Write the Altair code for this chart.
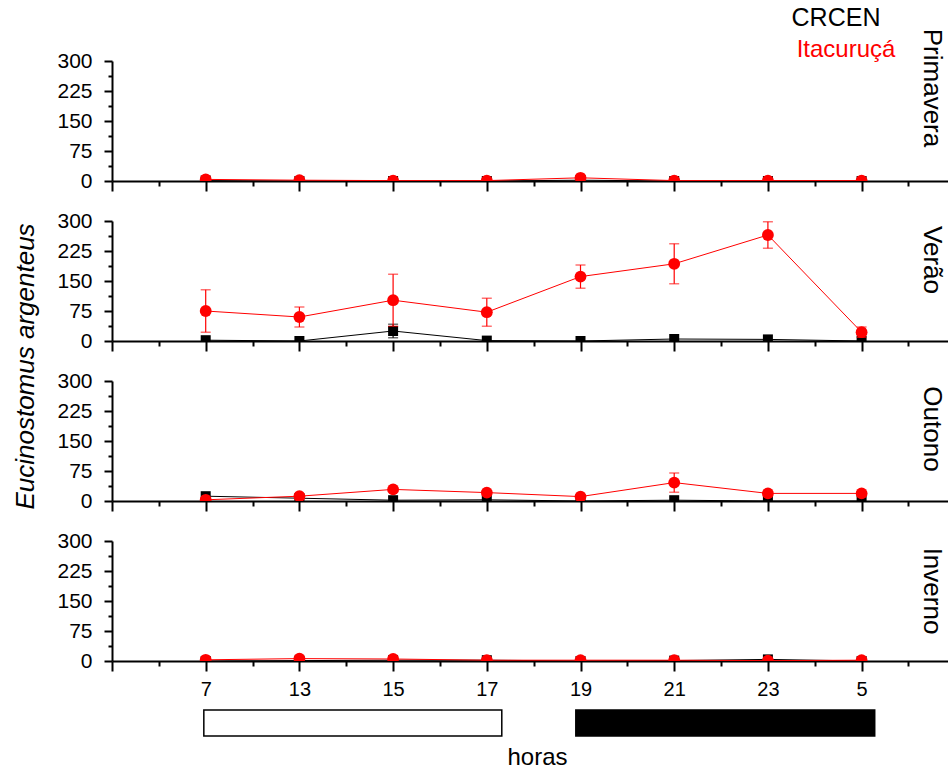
import altair as alt
import pandas as pd

hours = ["7", "13", "15", "17", "19", "21", "23", "5"]
seasons = ["Primavera", "Verão", "Outono", "Inverno"]

# CRCEN (black squares)
crcen = {
    "Primavera": [1, 0, 0, 0, 2, 0, 0, 0],
    "Verão": [2, 0, 25, 1, 0, 5, 4, 0],
    "Outono": [12, 7, 2, 3, 0, 2, 0, 0],
    "Inverno": [0, 1, 2, 2, 0, 1, 4, 0],
}
crcen_err = {
    "Primavera": [0, 0, 0, 0, 0, 0, 0, 0],
    "Verão": [0, 0, 17, 0, 0, 0, 0, 0],
    "Outono": [0, 0, 0, 0, 0, 0, 0, 0],
    "Inverno": [0, 0, 0, 0, 0, 0, 0, 0],
}
# Itacuruçá (red circles)
ita = {
    "Primavera": [4, 2, 1, 1, 8, 1, 1, 1],
    "Verão": [75, 60, 102, 72, 161, 193, 265, 22],
    "Outono": [3, 12, 29, 21, 11, 46, 19, 19],
    "Inverno": [3, 6, 5, 2, 2, 2, 1, 2],
}
ita_err = {
    "Primavera": [0, 0, 0, 0, 0, 0, 0, 0],
    "Verão": [53, 25, 65, 35, 29, 50, 33, 13],
    "Outono": [0, 4, 0, 0, 0, 24, 0, 0],
    "Inverno": [0, 0, 0, 0, 0, 0, 0, 0],
}

# day / night bars (in hour-index units)
bar_start = [-0.02, 3.95]
bar_end = [3.16, 7.14]
bar_fill = ["white", "black"]

FONT = "Liberation Sans"
W, H = 836, 120
XDOM = [-1, 7.922]
ROW_LABEL_Y = {"Primavera": 27, "Verão": 39, "Outono": 48, "Inverno": 50}

x_ticks = [v / 2 for v in range(-2, 16)]
y_ticks = [v * 37.5 for v in range(0, 9)]
label_arr = "[" + ",".join("'%s'" % h for h in hours) + "]"


def x_axis(labels):
    kw = dict(
        values=x_ticks,
        tickSize={"condition": {"test": "datum.value % 1 !== 0", "value": 5}, "value": 10},
        grid=False,
        title=None,
        labels=labels,
        domainWidth=2,
        tickWidth=2,
        labelOverlap=False,
    )
    if labels:
        kw["labelExpr"] = ("(datum.value >= 0 && datum.value <= 7 && datum.value % 1 === 0) ? "
                           + label_arr + "[datum.value] : ''")
        kw["labelFontSize"] = 20
        kw["labelPadding"] = 8
        kw["labelFont"] = FONT
        kw["labelColor"] = "black"
    return alt.Axis(**kw)


def y_axis(with_title):
    kw = dict(
        values=y_ticks,
        tickSize={"condition": {"test": "datum.value % 75 !== 0", "value": 4}, "value": 8},
        labelExpr="datum.value % 75 === 0 ? datum.label : ''",
        labelOverlap=False,
        grid=False,
        labelFontSize=21,
        labelFont=FONT,
        labelColor="black",
        labelPadding=12,
        domainWidth=2,
        tickWidth=2,
    )
    if with_title:
        kw.update(
            title="Eucinostomus argenteus",
            titleFontStyle="italic",
            titleFontSize=26,
            titleFontWeight="normal",
            titleFont=FONT,
            titleColor="black",
            titleX=-87,
            titleY=145,
            titleAngle=270,
            titleAlign="center",
            titleBaseline="middle",
        )
    else:
        kw["title"] = None
    return alt.Axis(**kw)


def panel(season, idx):
    rows = []
    for i, h in enumerate(hours):
        for s, vals, errs in (("CRCEN", crcen, crcen_err), ("Itacuruçá", ita, ita_err)):
            v = vals[season][i]
            e = errs[season][i]
            rows.append(dict(idx=i, hour=h, series=s, value=v,
                             lo=max(0, v - e), hi=v + e, err=e))
    df = pd.DataFrame(rows)
    xs = alt.Scale(domain=XDOM, nice=False, zero=False)
    ys = alt.Scale(domain=[0, 300], nice=False)
    yax = y_axis(idx == 1)
    x = alt.X("idx:Q", scale=xs, axis=x_axis(idx == 3))
    y = alt.Y("value:Q", scale=ys, axis=yax)
    base = alt.Chart(df)
    layers = []
    for s, col, shape, size in (("CRCEN", "black", "square", 100), ("Itacuruçá", "red", "circle", 140)):
        d = base.transform_filter(alt.datum.series == s)
        layers.append(d.mark_line(color=col, strokeWidth=1, clip=True).encode(x=x, y=y))
        layers.append(
            d.transform_filter(alt.datum.err > 0)
            .mark_rule(color=col, strokeWidth=1.2)
            .encode(x=x, y=alt.Y("lo:Q", scale=ys, axis=yax), y2="hi:Q")
        )
        for f in ("lo", "hi"):
            layers.append(
                d.transform_filter(alt.datum.err > 0)
                .mark_tick(color=col, thickness=1.2, size=10, orient="horizontal")
                .encode(x=x, y=alt.Y(f + ":Q", scale=ys, axis=yax))
            )
        layers.append(
            d.mark_point(shape=shape, filled=True, color=col, size=size, opacity=1, clip=True)
            .encode(x=x, y=y)
        )
    lab = alt.Chart(pd.DataFrame({"t": [season]})).mark_text(
        angle=90, fontSize=26, font=FONT, color="black", align="center", baseline="middle"
    ).encode(x=alt.value(820), y=alt.value(ROW_LABEL_Y[season]), text="t:N")
    layers.append(lab)
    if idx == 0:
        leg = pd.DataFrame({"t": ["CRCEN", "Itacuruçá"]})
        layers.append(
            alt.Chart(leg.iloc[[0]]).mark_text(fontSize=25, font=FONT, align="center", baseline="middle", color="black")
            .encode(x=alt.value(724), y=alt.value(-43), text="t:N")
        )
        layers.append(
            alt.Chart(leg.iloc[[1]]).mark_text(fontSize=24, font=FONT, align="center", baseline="middle", color="red")
            .encode(x=alt.value(734), y=alt.value(-11), text="t:N")
        )
    return alt.layer(*layers).properties(width=W, height=H)


panels = [panel(s, i) for i, s in enumerate(seasons)]

bars = pd.DataFrame({"start": bar_start, "end": bar_end, "fill": bar_fill})
bottom = alt.Chart(bars).mark_rect(stroke="black", strokeWidth=1.5).encode(
    x=alt.X("start:Q", scale=alt.Scale(domain=XDOM, nice=False, zero=False),
            axis=alt.Axis(domain=False, ticks=False, labels=False, grid=False, title="horas",
                          titleFontSize=24, titleFont=FONT, titleFontWeight="normal",
                          titleColor="black", titlePadding=9, titleX=425)),
    x2="end:Q",
    y=alt.value(9),
    y2=alt.value(35),
    color=alt.Color("fill:N", scale=None),
).properties(width=W, height=35)

chart = alt.vconcat(*panels, bottom, spacing=40, bounds="flush").properties(
    padding={"left": 12, "top": 6, "right": 0, "bottom": 0}
).configure_view(stroke=None).configure_axis(
    domainColor="black", tickColor="black", labelOverlap=False
)

chart.save("out.html", embed_options={"renderer": "svg", "actions": False})
